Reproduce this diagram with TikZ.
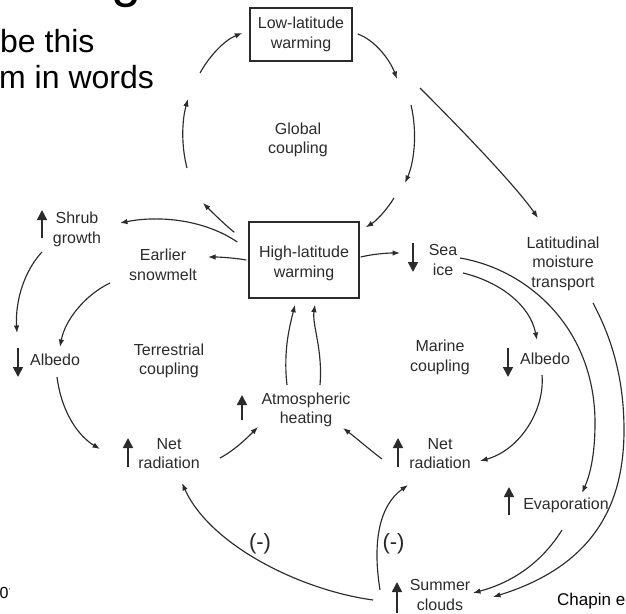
\documentclass[tikz,border=0pt]{standalone}
\usepackage{fontspec}
\setmainfont{Liberation Sans}
\usetikzlibrary{arrows.meta}
\definecolor{ink}{HTML}{2B2B2B}
\begin{document}
\begin{tikzpicture}[x=1pt,y=-1pt,
  lbl/.style={font=\fontsize{16}{19.5}\selectfont, align=center, text=ink, inner sep=0pt},
  boxnode/.style={draw=ink, line width=1.4pt, inner sep=0pt},
  con/.style={draw=ink, line width=1.15pt, -{Latex[length=7.5pt,width=5.5pt]}},
  mk/.style={draw=ink, line width=1.6pt, -{Triangle[length=10pt,width=10pt]}},
  slide/.style={text=black, inner sep=0pt, anchor=base west},
  neg/.style={font=\fontsize{22}{24}\selectfont, text=black!85, inner sep=0pt}]
\useasboundingbox (0,0) rectangle (626,613);
\clip (0,0) rectangle (626,613);

% slide fragments
\node[slide, font=\fontsize{54}{60}\selectfont] (tg) at (111,-4) {g};
\node[slide, font=\fontsize{32}{38}\selectfont] (t1) at (0,52) {be this};
\node[slide, font=\fontsize{32}{38}\selectfont] (t2) at (-1,88) {m in words};
\node[slide, font=\fontsize{16}{19}\selectfont] (t3) at (-0.5,598) {0\raisebox{5pt}{\fontsize{7}{8}\selectfont ’}};
\node[slide, font=\fontsize{17}{20}\selectfont] (t4) at (557,605) {Chapin e};

% boxes
\node[boxnode, lbl, minimum width=102pt, minimum height=53pt] (low) at (301,34.5) {Low-latitude\\warming};
\node[boxnode, minimum width=110pt, minimum height=76pt] (hl) at (304,260) {};
\node[lbl] (hltext) at (304,263.5) {High-latitude\\warming};

% labels
\node[lbl] (glob) at (298,140) {Global\\coupling};
\node[lbl] (earl) at (163,265) {Earlier\\snowmelt};
\node[lbl] (shrub) at (77,229.5) {Shrub\\growth};
\node[lbl] (albL) at (55,360) {Albedo};
\node[lbl] (terr) at (169,361) {Terrestrial\\coupling};
\node[lbl] (netL) at (169,453.5) {Net\\radiation};
\node[lbl] (atm) at (306,410) {Atmospheric\\heating};
\node[lbl] (netR) at (440,453.5) {Net\\radiation};
\node[lbl] (summ) at (440,595) {Summer\\clouds};
\node[lbl] (evap) at (566,505.5) {Evaporation};
\node[lbl] (albR) at (545,358.5) {Albedo};
\node[lbl] (mar) at (440,357.5) {Marine\\coupling};
\node[lbl] (sea) at (443,260) {Sea\\ice};
\node[lbl] (lat) at (563,263.5) {Latitudinal\\moisture\\transport};
\node[neg] (negL) at (260,543.5) {(-)};
\node[neg] (negR) at (393.5,543.5) {(-)};

% up / down markers
\draw[mk] (42,238) -- (42,210);
\draw[mk] (18,348) -- (18,377);
\draw[mk] (128,467) -- (128,438);
\draw[mk] (242,420) -- (242,395);
\draw[mk] (398,467) -- (398,438);
\draw[mk] (413,243) -- (413,272);
\draw[mk] (508,348) -- (508,377);
\draw[mk] (509,515) -- (509,487);
\draw[mk] (397,613) -- (397,582);

% free ends
\coordinate (g1) at (397,79);
\coordinate (g2s) at (411,105);
\coordinate (g2e) at (405,183);
\coordinate (g3s) at (394,198);
\coordinate (g4e) at (203,203);
\coordinate (g5s) at (187,168);
\coordinate (g5e) at (188,99);
\coordinate (g6s) at (200,73);
\coordinate (t0) at (420,88);

% global coupling loop
\draw[con] ([shift={(5,-0.5)}]low.east) .. controls (375,40) and (390,60) .. (g1);
\draw[con] (g2s) .. controls (417,130) and (415,160) .. (g2e);
\draw[con] (g3s) .. controls (386,211) and (376,221) .. ([shift={(6,6)}]hl.north east);
\draw[con] ([shift={(-14,11)}]hl.north west) .. controls (224,224) and (212,212) .. (g4e);
\draw[con] (g5s) .. controls (181,145) and (182,120) .. (g5e);
\draw[con] (g6s) .. controls (210,55) and (225,40) .. ([shift={(-7,-1.5)}]low.west);

% latitudinal transport
\draw[con] (t0) .. controls (460,128) and (515,185) .. ([shift={(-25,-45.5)}]lat.center);
\draw[con] ([shift={(30,39.5)}]lat.center) .. controls (610,335) and (624,375) .. (624,430) .. controls (624,502) and (596,565) .. ([shift={(53,2)}]summ.center);

% marine
\draw[con] ([shift={(17,-2)}]sea.center) .. controls (530,270) and (595,330) .. (595,423) .. controls (595,455) and (590,475) .. ([shift={(16,-12.5)}]evap.center);
\draw[con] ([shift={(20,13)}]sea.center) .. controls (500,282) and (530,305) .. ([shift={(-8,-18.5)}]albR.center);
\draw[con] ([shift={(-3,16.5)}]albR.center) .. controls (545,410) and (520,450) .. ([shift={(40,7.5)}]netR.center);
\draw[con] ([shift={(-58,5.5)}]netR.center) .. controls (370,450) and (355,437) .. ([shift={(37,18)}]atm.center);
\draw[con] ([shift={(-4,24.5)}]evap.center) .. controls (540,565) and (510,583) .. ([shift={(33,-2)}]summ.center);
\draw[con] ([shift={(-60,-5)}]summ.center) .. controls (372,540) and (380,505) .. ([shift={(-32,31.5)}]netR.center);
\draw[con] ([shift={(-67,5)}]summ.center) .. controls (300,590) and (210,545) .. ([shift={(13,29.5)}]netL.center);

% terrestrial
\draw[con] ([shift={(51,4.5)}]netL.center) .. controls (235,450) and (248,437) .. ([shift={(-48,17)}]atm.center);
\draw[con] ([shift={(2,17)}]albL.center) .. controls (62,415) and (80,437) .. ([shift={(-69,-4.5)}]netL.center);
\draw[con] ([shift={(-53,18)}]earl.center) .. controls (85,295) and (65,320) .. ([shift={(5,-13)}]albL.center);
\draw[con] ([shift={(-35,22.5)}]shrub.center) .. controls (25,270) and (15,300) .. ([shift={(-38,-27)}]albL.center);
\draw[con] ([shift={(-11,-18)}]hl.west) .. controls (205,220) and (160,215) .. ([shift={(43,-6.5)}]shrub.center);
\draw[con] ([shift={(-2,0)}]hl.west) .. controls (235,258) and (220,257) .. ([shift={(45,-8)}]earl.center);
\draw[con] ([shift={(1,-3)}]hl.east) .. controls (373,254) and (387,253) .. ([shift={(-43,-7)}]sea.center);

% atmospheric heating to high-latitude warming
\draw[con] ([shift={(-19,-25)}]atm.center) .. controls (283,350) and (290,325) .. ([shift={(-9,6)}]hl.south);
\draw[con] ([shift={(14,-25)}]atm.center) .. controls (323,350) and (312,325) .. ([shift={(11,6)}]hl.south);
\end{tikzpicture}
\end{document}
